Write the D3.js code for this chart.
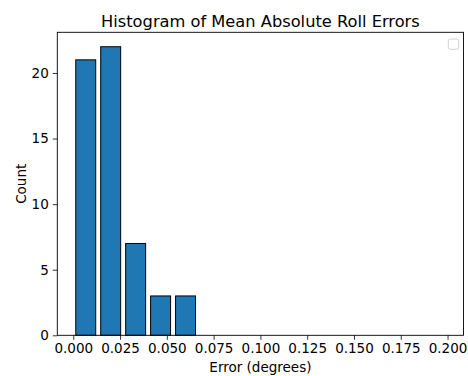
<!DOCTYPE html>
<html>
<head>
<meta charset="utf-8">
<script src="https://cdn.jsdelivr.net/npm/d3@7"></script>
<style>
  body { margin: 0; background: #fff; }
  text { font-family: "DejaVu Sans", sans-serif; fill: #000; }
</style>
</head>
<body>
<svg id="chart" width="468" height="376"></svg>
<script>
// histogram data: 15 bins over [0, 0.2]
var binStart = 0, binEnd = 0.2;
var counts = [21, 22, 7, 3, 3, 0, 0, 0, 0, 0, 0, 0, 0, 0, 0];
var xTicks = [0, 0.025, 0.05, 0.075, 0.1, 0.125, 0.15, 0.175, 0.2];
var yTicks = [0, 5, 10, 15, 20];
var rwidth = 0.8;

var W = 468, H = 376;
var m = {left: 57.3, right: 4.5, top: 32.3, bottom: 40.7};

var svg = d3.select("#chart");

var binW = (binEnd - binStart) / counts.length;
var bins = counts.map(function(c, i) {
    var x0 = binStart + i * binW;
    return {x0: x0 + binW * (1 - rwidth) / 2, x1: x0 + binW * (1 + rwidth) / 2, count: c};
});

// matplotlib-ish 5% margins around the bar extents
var lo = bins[0].x0, hi = bins[bins.length - 1].x1, pad = (hi - lo) * 0.05;
var x = d3.scaleLinear().domain([lo - pad, hi + pad]).range([m.left, W - m.right]);
var y = d3.scaleLinear().domain([0, d3.max(counts) * 1.05]).range([H - m.bottom, m.top]);

// bars
svg.append("g").selectAll("rect")
    .data(bins.filter(function(d) { return d.count > 0; }))
    .enter().append("rect")
    .attr("x", function(d) { return x(d.x0); })
    .attr("y", function(d) { return y(d.count); })
    .attr("width", function(d) { return x(d.x1) - x(d.x0); })
    .attr("height", function(d) { return y(0) - y(d.count); })
    .attr("fill", "#1f77b4")
    .attr("stroke", "#000")
    .attr("stroke-width", 1);

// axes
var xAxis = svg.append("g")
    .attr("transform", "translate(0," + (H - m.bottom) + ")")
    .call(d3.axisBottom(x).tickValues(xTicks).tickFormat(d3.format(".3f")).tickSizeOuter(0).tickSize(4.5).tickPadding(4));
var yAxis = svg.append("g")
    .attr("transform", "translate(" + m.left + ",0)")
    .call(d3.axisLeft(y).tickValues(yTicks).tickSizeOuter(0).tickSize(4.5).tickPadding(4));

[xAxis, yAxis].forEach(function(a) {
    a.select(".domain").remove();
    a.selectAll("line").attr("stroke", "#000").attr("stroke-width", 0.8);
    a.selectAll("text").style("font-family", "DejaVu Sans").style("font-size", "13.5px").attr("fill", "#000");
});

// frame
svg.append("rect")
    .attr("x", m.left).attr("y", m.top)
    .attr("width", W - m.left - m.right).attr("height", H - m.top - m.bottom)
    .attr("fill", "none").attr("stroke", "#000").attr("stroke-width", 0.9);

// empty legend box
svg.append("rect")
    .attr("x", 448.3).attr("y", 39)
    .attr("width", 10.4).attr("height", 10.3)
    .attr("rx", 2)
    .attr("fill", "#fff").attr("stroke", "#ccc").attr("stroke-width", 0.9);

// title and labels
svg.append("text")
    .attr("x", (m.left + W - m.right) / 2).attr("y", 26.5)
    .attr("text-anchor", "middle").style("font-size", "16.25px")
    .text("Histogram of Mean Absolute Roll Errors");
svg.append("text")
    .attr("x", (m.left + W - m.right) / 2).attr("y", 372)
    .attr("text-anchor", "middle").style("font-size", "13.5px")
    .text("Error (degrees)");
svg.append("text")
    .attr("transform", "translate(26," + ((m.top + H - m.bottom) / 2) + ") rotate(-90)")
    .attr("text-anchor", "middle").style("font-size", "13.5px")
    .text("Count");
</script>
</body>
</html>
